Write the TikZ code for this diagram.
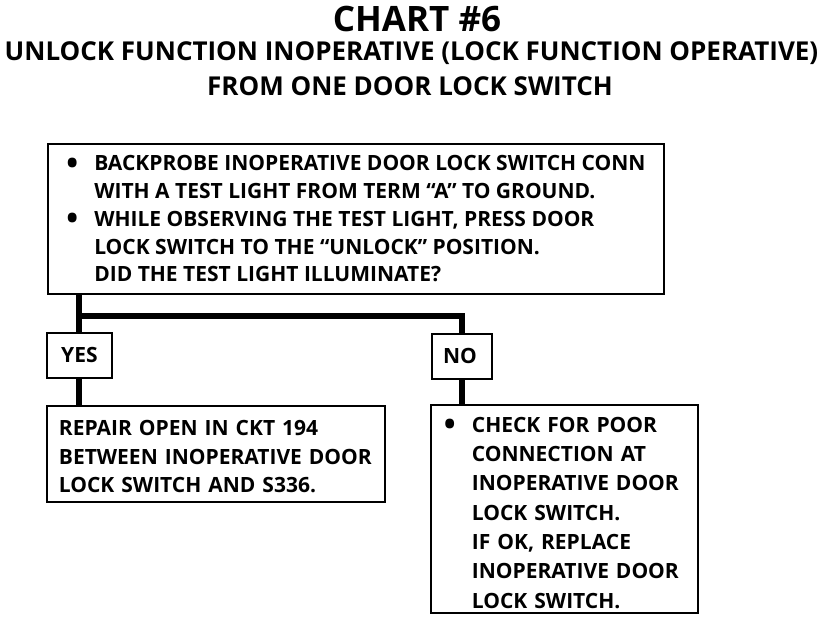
\documentclass[tikz,border=0pt]{standalone}
\usepackage{fontspec}
\setmainfont{Open Sans}
\newfontfamily\titlefont{Open Sans}
\newfontfamily\bodyfont{Open Sans}
\newcommand\bul{\makebox[28pt][l]{\raisebox{-3.5pt}{\scalebox{1.5}{\textbullet}}}}
\newcommand\ind{\hspace*{28pt}}
\begin{document}
\begin{tikzpicture}[x=1pt,y=-1pt,
  box/.style={draw,line width=1.8pt,anchor=north west,inner ysep=0pt,align=left},
  tag/.style={draw,line width=1.8pt,anchor=north west,inner sep=0pt,font=\bodyfont\bfseries\fontsize{21}{24}\selectfont},
  conn/.style={line width=6pt},
  ttl/.style={font=\titlefont\bfseries}]
\useasboundingbox (0,0) rectangle (832,622);
\node[ttl,font=\titlefont\bfseries\fontsize{35}{35}\selectfont] (t1) at (417,19) {CHART \#6};
\node[ttl,font=\titlefont\bfseries\fontsize{26}{26}\selectfont] (t2) at (411.5,53) {UNLOCK FUNCTION INOPERATIVE (LOCK FUNCTION OPERATIVE)};
\node[ttl,font=\titlefont\bfseries\fontsize{26}{26}\selectfont] (t3) at (410,86) {FROM ONE DOOR LOCK SWITCH};
\node[box,minimum width=616pt,minimum height=150pt,inner xsep=16pt,
  font=\bodyfont\bfseries\fontsize{21}{27.7}\selectfont] (top) at (47,143)
  {\bul BACKPROBE INOPERATIVE DOOR LOCK SWITCH CONN\\
   \ind WITH A TEST LIGHT FROM TERM “A” TO GROUND.\\
   \bul WHILE OBSERVING THE TEST LIGHT, PRESS DOOR\\
   \ind LOCK SWITCH TO THE “UNLOCK” POSITION.\\
   \ind DID THE TEST LIGHT ILLUMINATE?};
\node[tag,minimum width=65pt,minimum height=45pt] (yes) at (46,332) {YES};
\node[tag,minimum width=60pt,minimum height=45pt] (no) at (431,333) {NO\hspace*{4pt}};
\node[box,minimum width=338pt,minimum height=96pt,inner xsep=12pt,text width=314pt,
  font=\bodyfont\bfseries\fontsize{21}{28.5}\selectfont] (repair) at (46,405)
  {\rule{0pt}{21pt}REPAIR OPEN IN CKT 194\\
   BETWEEN INOPERATIVE DOOR\\
   LOCK SWITCH AND S336.};
\node[box,minimum width=267pt,minimum height=208pt,inner xsep=13pt,text width=241pt,
  font=\bodyfont\bfseries\fontsize{21}{29.3}\selectfont] (check) at (430,404)
  {\rule{0pt}{23pt}\bul CHECK FOR POOR\\
   \ind CONNECTION AT\\
   \ind INOPERATIVE DOOR\\
   \ind LOCK SWITCH.\\
   \ind IF OK, REPLACE\\
   \ind INOPERATIVE DOOR\\
   \ind LOCK SWITCH.};
\coordinate (jn) at (80,316);
\draw[conn] (yes.north |- top.south) -- (yes.north);
\draw[conn] (jn) -| (no.north);
\draw[conn] (yes.south) -- (yes.south |- repair.north);
\draw[conn] (no.south) -- (no.south |- check.north);
\end{tikzpicture}
\end{document}
